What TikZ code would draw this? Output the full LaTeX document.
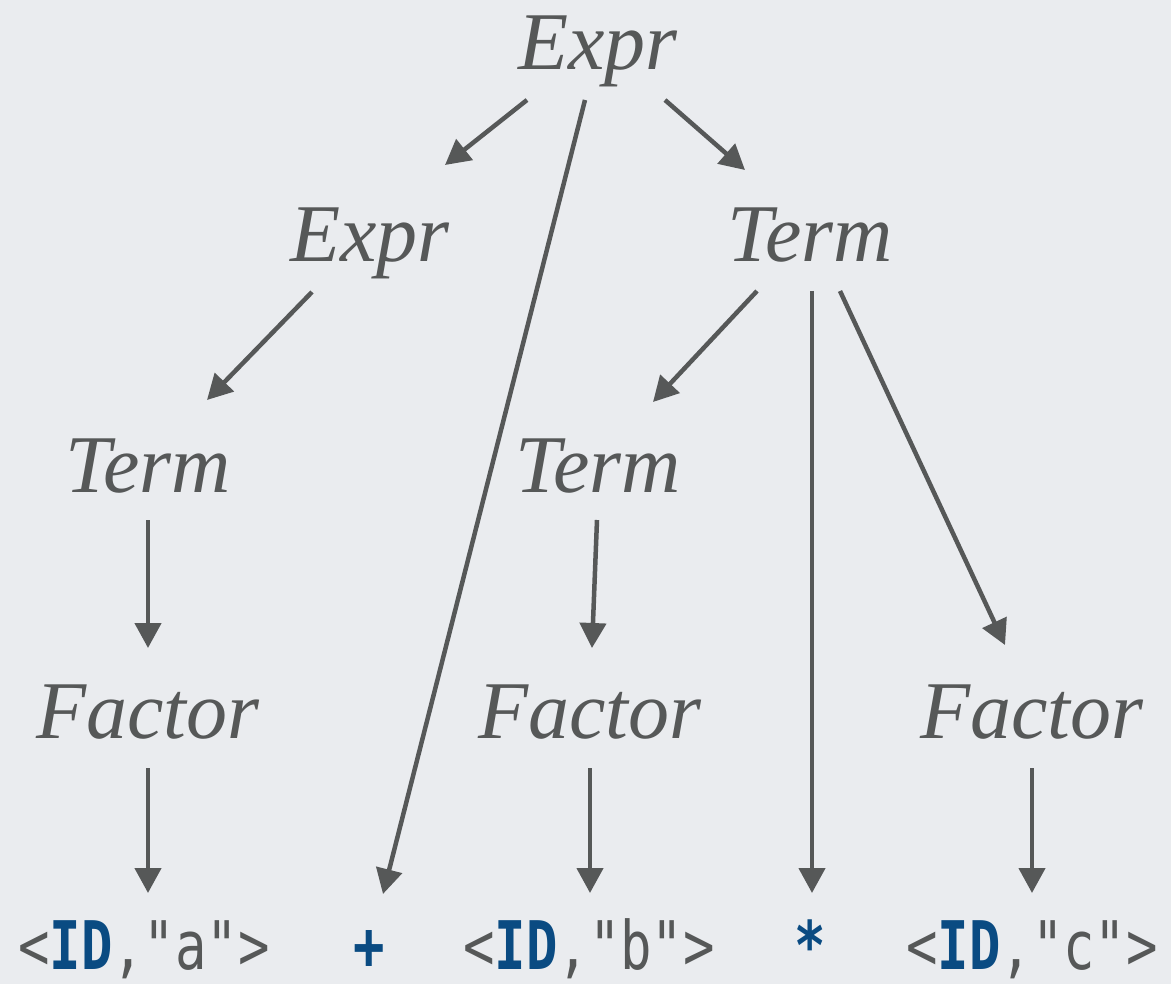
\documentclass[tikz,border=0pt]{standalone}
\usepackage{fontspec}
\setmainfont{Liberation Serif}
\newfontfamily\tokfont[FakeStretch=0.78]{DejaVu Sans Mono}
\usetikzlibrary{arrows.meta,calc}

\definecolor{bgGray}{RGB}{234,236,239}
\definecolor{inkGray}{RGB}{86,88,88}
\definecolor{idBlue}{RGB}{10,75,130}

\newcommand{\tokid}{\textcolor{idBlue}{\textbf{ID}}}

\begin{document}
\begin{tikzpicture}[
  x=1pt,y=-1pt,
  nt/.style={anchor=base,inner sep=0pt,text=inkGray,
             font=\fontsize{82}{90}\selectfont\itshape},
  tok/.style={anchor=base,inner sep=0pt,text=inkGray,
              font=\fontsize{67}{74}\selectfont\tokfont},
  arr/.style={-{Triangle[length=25pt,width=26pt]},line width=4.5pt,draw=inkGray}
]
\fill[bgGray] (0,0) rectangle (1171,984);
\useasboundingbox (0,0) rectangle (1171,984);

% nonterminals
\node[nt] (exprTop) at (598,70) {Expr};
\node[nt] (exprL) at (370,262) {Expr};
\node[nt] (termR) at (810,262) {Term};
\node[nt] (termL) at (148,492) {Term};
\node[nt] (termM) at (598,492) {Term};
\node[nt] (factL) at (148,738) {Factor};
\node[nt] (factM) at (590,738) {Factor};
\node[nt] (factR) at (1032,738) {Factor};

% tokens
\node[tok] (idA) at (144,969) {<\tokid,"a">};
\node[tok] (plus) at (369,969) {\textcolor{idBlue}{\textbf{+}}};
\node[tok] (idB) at (589,969) {<\tokid,"b">};
\node[tok] (star) at (810,969) {\textcolor{idBlue}{\textbf{*}}};
\node[tok] (idC) at (1032,969) {<\tokid,"c">};

\draw[arr] ($(exprTop.base)+(-71,30)$) -- ($(exprL.base)+(75,-97)$);
\draw[arr] ($(exprTop.base)+(-13,30)$) -- ($(plus.base)+(14,-75)$);
\draw[arr] ($(exprTop.base)+(67,30)$) -- ($(termR.base)+(-65,-92)$);
\draw[arr] ($(exprL.base)+(-58,30)$) -- ($(termL.base)+(59,-92)$);
\draw[arr] ($(termR.base)+(-53,29)$) -- ($(termM.base)+(55,-90)$);
\draw[arr] ($(termR.base)+(2,29)$) -- ($(star.base)+(2,-76)$);
\draw[arr] ($(termR.base)+(30,29)$) -- ($(factR.base)+(-27,-93)$);
\draw[arr] ($(termL.base)+(0,28)$) -- ($(factL.base)+(0,-90)$);
\draw[arr] ($(termM.base)+(-1,28)$) -- ($(factM.base)+(2,-90)$);
\draw[arr] ($(factL.base)+(0,30)$) -- ($(idA.base)+(4,-76)$);
\draw[arr] ($(factM.base)+(0,30)$) -- ($(idB.base)+(1,-76)$);
\draw[arr] ($(factR.base)+(0,30)$) -- ($(idC.base)+(0,-76)$);
\end{tikzpicture}
\end{document}
